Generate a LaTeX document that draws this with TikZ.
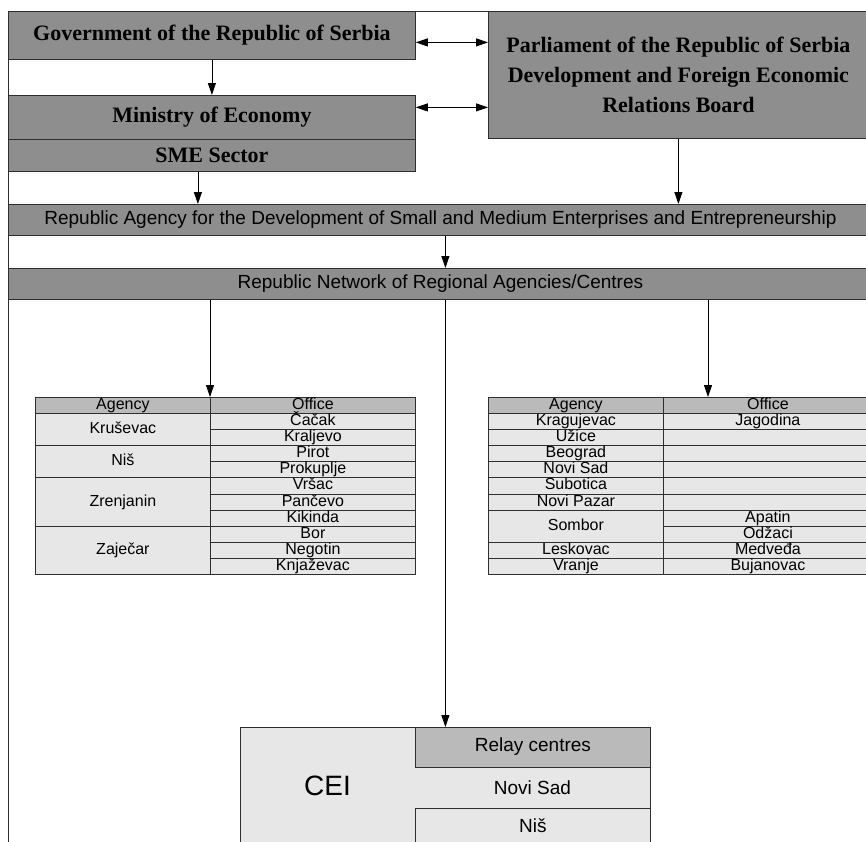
\documentclass[tikz,border=0pt]{standalone}
\usepackage{fontspec}
\setmainfont{Liberation Serif}
\setsansfont{Liberation Sans}
\usetikzlibrary{arrows.meta}

\definecolor{bargray}{HTML}{8E8E8E}
\definecolor{headgray}{HTML}{BABABA}
\definecolor{cellgray}{HTML}{E7E7E7}
\definecolor{linegray}{HTML}{2E2E2E}

\tikzset{
  box/.style={draw=linegray, fill=bargray, line width=0.8pt, inner sep=0pt, anchor=north west},
  govbox/.style={box, font=\bfseries\fontsize{22}{30}\selectfont, align=center},
  barbox/.style={box, font=\sffamily\fontsize{19}{19}\selectfont},
  cell/.style={box, fill=cellgray, font=\sffamily\fontsize{16}{16}\selectfont, text height=11.5pt, text depth=3.3pt},
  hcell/.style={cell, fill=headgray, minimum height=16},
  arr/.style={-{Triangle[length=12pt,width=8pt]}, line width=0.8pt},
  darr/.style={{Triangle[length=12pt,width=8pt]}-{Triangle[length=12pt,width=8pt]}, line width=0.8pt}
}

\begin{document}
\begin{tikzpicture}[x=1pt, y=-1pt]
    \useasboundingbox (0,0) rectangle (866,841);

    % top level
    \node[govbox, minimum width=407, minimum height=48] at (8,11) (gov) {Government of the Republic of Serbia};
    \node[govbox, minimum width=407, minimum height=44] at (8,95) (min) {Ministry of Economy};
    \node[govbox, minimum width=407, minimum height=32] at (8,139) (sme) {SME Sector};
    \node[govbox, minimum width=380, minimum height=127] at (488,11) (parl) {Parliament of the Republic of Serbia\\Development and Foreign Economic\\Relations Board};
    \draw[line width=0.8pt, draw=linegray] (gov.north east) -- (parl.north west);
    \draw[line width=0.8pt, draw=linegray] (gov.north west) -- ++(0,850);

    \draw[arr] (gov) -- (min);
    \draw[darr] ([yshift=-7pt]gov.east) -- ([yshift=-7pt]gov.east -| parl.west);
    \draw[darr] ([yshift=10pt]min.east) -- ([yshift=10pt]min.east -| parl.west);

    % agencies
    \node[barbox, minimum width=864, minimum height=31] at (8,204) (agency) {Republic Agency for the Development of Small and Medium Enterprises and Entrepreneurship};
    \node[barbox, minimum width=864, minimum height=31] at (8,268) (net) {Republic Network of Regional Agencies/Centres};
    \draw[arr] ([xshift=-14pt]sme.south) -- ([xshift=-14pt]sme.south |- agency.north);
    \draw[arr] (parl.south) -- (parl.south |- agency.north);
    \draw[arr] ([xshift=5pt]agency.south) -- ([xshift=5pt]net.north);

    % left table
    \node[hcell, minimum width=175] at (35,397) (la0) {Agency};
    \node[hcell, minimum width=205] at (210,397) (lo0) {Office};
    \draw[line width=1.6pt, draw=linegray] (lo0.south west) -- (lo0.south east);
    \foreach \name/\top/\n [count=\i] in {Kruševac/0/2, Niš/2/2, Zrenjanin/4/3, Zaječar/7/3}
      \node[cell, minimum width=175, minimum height={16.1*\n}] at (35,{413+16.1*\top}) (la\i) {\name};
    \foreach \name [count=\i] in {Čačak, Kraljevo, Pirot, Prokuplje, Vršac, Pančevo, Kikinda, Bor, Negotin, Knjaževac}
      \node[cell, minimum width=205, minimum height=16.1] at (210,{413+16.1*(\i-1)}) (lo\i) {\name};

    % right table
    \node[hcell, minimum width=175] at (488,397) (ra0) {Agency};
    \node[hcell, minimum width=209] at (663,397) (ro0) {Office};
    \foreach \name/\top/\n [count=\i] in {Kragujevac/0/1, Užice/1/1, Beograd/2/1, Novi Sad/3/1, Subotica/4/1, Novi Pazar/5/1, Sombor/6/2, Leskovac/8/1, Vranje/9/1}
      \node[cell, minimum width=175, minimum height={16.1*\n}] at (488,{413+16.1*\top}) (ra\i) {\name};
    \foreach \name [count=\i] in {Jagodina, {}, {}, {}, {}, {}, Apatin, Odžaci, Medveđa, Bujanovac}
      \node[cell, minimum width=209, minimum height=16.1] at (663,{413+16.1*(\i-1)}) (ro\i) {\name};

    \draw[arr] (net.south -| lo0.north west) -- (lo0.north west);
    \draw[arr] ([xshift=45pt]ro0.north west |- net.south) -- ([xshift=45pt]ro0.north west);

    % CEI
    \node[cell, minimum width=410, minimum height=160] at (240,727) (ceibox) {};
    \node[font=\sffamily\fontsize{28}{28}\selectfont] at (327.5,786) (cei) {CEI};
    \node[cell, fill=headgray, font=\sffamily\fontsize{19}{19}\selectfont, minimum width=235, minimum height=40] at (415,727) (relay) {Relay centres};
    \node[font=\sffamily\fontsize{19}{19}\selectfont] at (532.5,787.5) (cns) {Novi Sad};
    \node[cell, font=\sffamily\fontsize{19}{19}\selectfont, minimum width=235, minimum height=40] at (415,808) (cnis) {Niš};
    \draw[arr] ([xshift=5pt]net.south) -- ([xshift=5pt]net.south |- relay.north);
\end{tikzpicture}
\end{document}
